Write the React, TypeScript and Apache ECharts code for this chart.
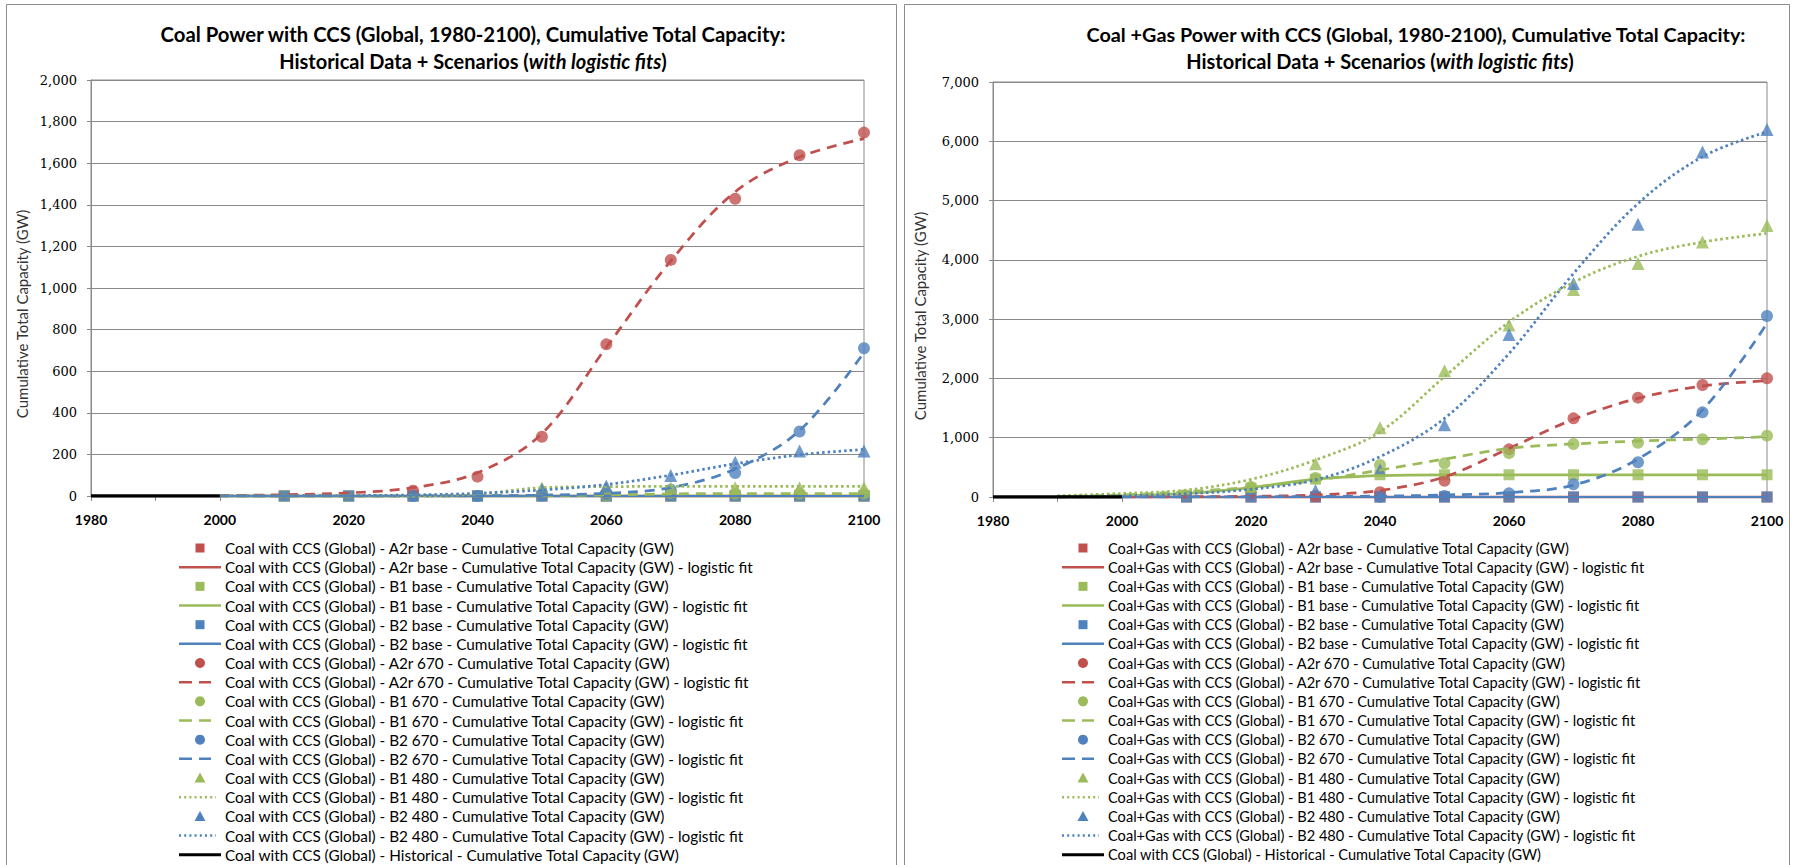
import React, { useEffect, useRef } from "react";
import * as echarts from "echarts";

// ---------- DATA ----------
const MARKER_YEARS = [2010, 2020, 2030, 2040, 2050, 2060, 2070, 2080, 2090, 2100];
const FIT_YEARS = [1990, 2000, 2010, 2020, 2030, 2040, 2050, 2060, 2070, 2080, 2090, 2100];
const HIST_YEARS = [1980, 2000];
const HIST_VALUES = [0, 0];

const SCENARIOS = ["A2r base", "B1 base", "B2 base", "A2r 670", "B1 670", "B2 670", "B1 480", "B2 480"];

// Coal with CCS (left) - markers 2010..2100
const COAL_A2R_BASE = [0, 0, 0, 0, 0, 0, 0, 0, 0, 0];
const COAL_B1_BASE = [0, 0, 0, 0, 0, 0, 0, 0, 0, 0];
const COAL_B2_BASE = [0, 0, 0, 0, 0, 0, 0, 0, 0, 0];
const COAL_A2R_670 = [null, null, 25, 93, 285, 729, 1135, 1429, 1638, 1747];
const COAL_B1_670 = [null, null, null, null, null, 3, 15, 12, 12, 12];
const COAL_B2_670 = [null, null, 0, 0, 2, 8, 30, 110, 310, 710];
const COAL_B1_480 = [null, null, null, null, 38, 40, 40, 40, 40, 40];
const COAL_B2_480 = [null, null, null, null, 33, 48, 98, 162, 216, 216];

// Coal with CCS (left) - logistic fits 1990..2100
const COAL_A2R_BASE_FIT = [null, 0, 0, 0, 0, 0, 0, 0, 0, 0, 0, 0];
const COAL_B1_BASE_FIT = [null, 0, 0, 0, 0, 0, 0, 0, 0, 0, 0, 0];
const COAL_B2_BASE_FIT = [null, 0, 0, 0, 0, 0, 0, 0, 0, 0, 0, 0];
const COAL_A2R_670_FIT = [null, 2, 6, 15, 40, 112, 300, 715, 1130, 1462, 1630, 1718];
const COAL_B1_670_FIT = [null, 0, 0, 0, 0, 1, 2, 5, 10, 12, 12, 12];
const COAL_B2_670_FIT = [null, 0, 0, 0, 0, 1, 4, 13, 40, 130, 315, 690];
const COAL_B1_480_FIT = [null, 0, 0, 0, 1, 10, 40, 45, 46, 46, 46, 46];
const COAL_B2_480_FIT = [null, 0, 1, 2, 5, 13, 29, 55, 100, 155, 198, 224];

// Coal+Gas with CCS (right) - markers 2010..2100
const CG_A2R_BASE = [0, 0, 0, 0, 0, 0, 0, 0, 0, 0];
const CG_B1_BASE = [30, 150, 300, 375, 375, 375, 375, 375, 375, 375];
const CG_B2_BASE = [0, 0, 0, 0, 0, 0, 0, 0, 0, 0];
const CG_A2R_670 = [null, null, 15, 80, 275, 804, 1327, 1676, 1889, 2001];
const CG_B1_670 = [null, 170, 320, 540, 570, 740, 895, 915, 975, 1035];
const CG_B2_670 = [null, null, null, 5, 17, 62, 214, 585, 1428, 3052];
const CG_B1_480 = [null, 180, 560, 1170, 2130, 2900, 3500, 3940, 4300, 4580];
const CG_B2_480 = [null, null, 110, 455, 1220, 2740, 3600, 4600, 5820, 6200];

// Coal+Gas with CCS (right) - logistic fits 1990..2100
const CG_A2R_BASE_FIT = [null, 0, 0, 0, 0, 0, 0, 0, 0, 0, 0, 0];
const CG_B1_BASE_FIT = [5, 20, 60, 160, 300, 360, 375, 375, 375, 375, 375, 375];
const CG_B2_BASE_FIT = [null, 0, 0, 0, 0, 0, 0, 0, 0, 0, 0, 0];
const CG_A2R_670_FIT = [0, 1, 4, 12, 35, 110, 340, 820, 1310, 1664, 1872, 1962];
const CG_B1_670_FIT = [10, 34, 90, 165, 280, 455, 640, 820, 895, 944, 978, 1017];
const CG_B2_670_FIT = [null, 0, 1, 3, 8, 15, 34, 73, 202, 640, 1467, 2929];
const CG_B1_480_FIT = [20, 60, 118, 298, 624, 1100, 2030, 2950, 3620, 4060, 4300, 4446];
const CG_B2_480_FIT = [5, 20, 55, 130, 290, 680, 1326, 2420, 3770, 4950, 5740, 6160];

const LEFT_Y = { max: 2000, interval: 200 };
const RIGHT_Y = { max: 7000, interval: 1000 };

const TITLE_LEFT_1 = "Coal Power with CCS (Global, 1980-2100), Cumulative Total Capacity:";
const TITLE_RIGHT_1 = "Coal +Gas Power with CCS (Global, 1980-2100), Cumulative Total Capacity:";
const TITLE_2A = "Historical Data + Scenarios (";
const TITLE_2B = "with logistic fits";
const TITLE_2C = ")";
const Y_NAME = "Cumulative Total Capacity (GW)";
const HIST_NAME = "Coal with CCS (Global) - Historical - Cumulative Total Capacity (GW)";

// ---------- STYLE ----------
const RED = "#C0504D";
const GREEN = "#9BBB59";
const BLUE = "#4F81BD";
const GRID_GRAY = "#8a8a8a";

type Style = { color: string; symbol: string; dash: "solid" | "dashed" | "dotted" };
const STYLES: Style[] = [
  { color: RED, symbol: "rect", dash: "solid" },
  { color: GREEN, symbol: "rect", dash: "solid" },
  { color: BLUE, symbol: "rect", dash: "solid" },
  { color: RED, symbol: "circle", dash: "dashed" },
  { color: GREEN, symbol: "circle", dash: "dashed" },
  { color: BLUE, symbol: "circle", dash: "dashed" },
  { color: GREEN, symbol: "triangle", dash: "dotted" },
  { color: BLUE, symbol: "triangle", dash: "dotted" },
];

const COAL_MARKERS = [COAL_A2R_BASE, COAL_B1_BASE, COAL_B2_BASE, COAL_A2R_670, COAL_B1_670, COAL_B2_670, COAL_B1_480, COAL_B2_480];
const COAL_FITS = [COAL_A2R_BASE_FIT, COAL_B1_BASE_FIT, COAL_B2_BASE_FIT, COAL_A2R_670_FIT, COAL_B1_670_FIT, COAL_B2_670_FIT, COAL_B1_480_FIT, COAL_B2_480_FIT];
const CG_MARKERS = [CG_A2R_BASE, CG_B1_BASE, CG_B2_BASE, CG_A2R_670, CG_B1_670, CG_B2_670, CG_B1_480, CG_B2_480];
const CG_FITS = [CG_A2R_BASE_FIT, CG_B1_BASE_FIT, CG_B2_BASE_FIT, CG_A2R_670_FIT, CG_B1_670_FIT, CG_B2_670_FIT, CG_B1_480_FIT, CG_B2_480_FIT];

const pairs = (xs: number[], ys: (number | null)[]) =>
  xs.map((x, i) => [x, ys[i]]).filter((p) => p[1] !== null);

const dashArr = (d: string) => (d === "dashed" ? [10, 7] : d === "dotted" ? [2.5, 3] : "solid");

function buildSeries(prefix: string, markers: (number | null)[][], fits: (number | null)[][], axisIndex: number) {
  const out: any[] = [];
  SCENARIOS.forEach((sc, i) => {
    const st = STYLES[i];
    const base = `${prefix} - ${sc} - Cumulative Total Capacity (GW)`;
    out.push({
      name: base,
      type: "scatter",
      xAxisIndex: axisIndex,
      yAxisIndex: axisIndex,
      symbol: st.symbol,
      symbolSize: st.symbol === "triangle" ? 13 : st.symbol === "rect" ? 11 : 12,
      itemStyle: { color: st.color },
      data: pairs(MARKER_YEARS, markers[i]),
    });
    out.push({
      name: base + " - logistic fit",
      type: "line",
      xAxisIndex: axisIndex,
      yAxisIndex: axisIndex,
      symbol: "none",
      smooth: 0.35,
      lineStyle: { color: st.color, width: i === 2 ? 2.25 : 2.75, type: dashArr(st.dash) },
      itemStyle: { color: st.color },
      data: pairs(FIT_YEARS, fits[i]),
    });
  });
  out.push({
    name: HIST_NAME,
    type: "line",
    xAxisIndex: axisIndex,
    yAxisIndex: axisIndex,
    symbol: "none",
    lineStyle: { color: "#000", width: 3.5 },
    itemStyle: { color: "#000" },
    data: pairs(HIST_YEARS, HIST_VALUES),
  });
  return out;
}

function legendGraphics(prefix: string, iconX: number, textX: number, fontSize: number) {
  const els: any[] = [];
  const y0 = 548;
  const step = 19.17;
  const names: { text: string; kind: string; st: Style | null }[] = [];
  SCENARIOS.forEach((sc, i) => {
    const base = `${prefix} - ${sc} - Cumulative Total Capacity (GW)`;
    names.push({ text: base, kind: "marker", st: STYLES[i] });
    names.push({ text: base + " - logistic fit", kind: "fit", st: STYLES[i] });
  });
  names.push({ text: HIST_NAME, kind: "hist", st: null });
  names.forEach((n, r) => {
    const y = y0 + r * step;
    const cx = iconX + 21;
    if (n.kind === "marker" && n.st) {
      const c = n.st.color;
      if (n.st.symbol === "rect") {
        els.push({ type: "rect", shape: { x: cx - 4.5, y: y - 4.5, width: 9, height: 9 }, style: { fill: c } });
      } else if (n.st.symbol === "circle") {
        els.push({ type: "circle", shape: { cx, cy: y, r: 5 }, style: { fill: c } });
      } else {
        els.push({ type: "polygon", shape: { points: [[cx, y - 5.5], [cx + 5.5, y + 4.5], [cx - 5.5, y + 4.5]] }, style: { fill: c } });
      }
    } else if (n.kind === "fit" && n.st) {
      const d = n.st.dash;
      const x2 = d === "solid" ? iconX + 42 : d === "dashed" ? iconX + 32 : iconX + 37;
      els.push({
        type: "line",
        shape: { x1: iconX, y1: y, x2, y2: y },
        style: {
          stroke: n.st.color,
          lineWidth: 2.5,
          lineDash: d === "dashed" ? [13, 7] : d === "dotted" ? [2, 3.2] : null,
        },
      });
    } else {
      els.push({ type: "line", shape: { x1: iconX, y1: y, x2: iconX + 42, y2: y }, style: { stroke: "#000", lineWidth: 3 } });
    }
    els.push({
      type: "text",
      x: textX,
      y,
      style: { text: n.text, fontFamily: "Lato", fontSize, fill: "#000", verticalAlign: "middle", align: "left" },
    });
  });
  return els;
}

function titleGraphics(line1: string, cx1: number, cx2: number, size1: number) {
  const font = { fontFamily: "Lato", fontSize: size1, fontWeight: "bold", fill: "#000" };
  return [
    { type: "text", x: cx1, y: 34, style: { ...font, text: line1, align: "center", verticalAlign: "middle" } },
    {
      type: "text",
      x: cx2,
      y: 61,
      style: {
        text: `{n|${TITLE_2A}}{i|${TITLE_2B}}{n|${TITLE_2C}}`,
        align: "center",
        verticalAlign: "middle",
        rich: {
          n: { fontFamily: "Lato", fontSize: 20, fontWeight: "bold", fill: "#000" },
          i: { fontFamily: "Lato", fontSize: 20, fontWeight: "bold", fontStyle: "italic", fill: "#000" },
        },
      },
    },
  ];
}

const fmt = (v: number) => v.toLocaleString("en-US");

function xAxisCfg(gridIndex: number) {
  return {
    type: "value",
    gridIndex,
    min: 1980,
    max: 2100,
    interval: 10,
    axisLine: { show: true, lineStyle: { color: GRID_GRAY, width: 1 } },
    axisTick: { show: true, length: 5, lineStyle: { color: GRID_GRAY } },
    splitLine: { show: false },
    axisLabel: {
      margin: 16,
      color: "#000",
      fontFamily: "Lato",
      fontSize: 14,
      fontWeight: "bold",
      formatter: (v: number) => (v % 20 === 0 ? String(v) : ""),
    },
  };
}

function yAxisCfg(gridIndex: number, cfg: { max: number; interval: number }) {
  return {
    type: "value",
    gridIndex,
    min: 0,
    max: cfg.max,
    interval: cfg.interval,
    axisLine: { show: true, lineStyle: { color: GRID_GRAY, width: 1 } },
    axisTick: { show: true, length: 4, lineStyle: { color: GRID_GRAY } },
    splitLine: { show: true, lineStyle: { color: GRID_GRAY, width: 1 } },
    axisLabel: { margin: 14, color: "#000", fontFamily: "DejaVu Serif", fontSize: 13, formatter: fmt },
  };
}

export default function App() {
  const ref = useRef<HTMLDivElement>(null);
  useEffect(() => {
    if (!ref.current) return;
    const chart = echarts.init(ref.current, null, { renderer: "svg" });
    const series = [
      ...buildSeries("Coal with CCS (Global)", COAL_MARKERS, COAL_FITS, 0),
      ...buildSeries("Coal+Gas with CCS (Global)", CG_MARKERS, CG_FITS, 1),
    ];
    const graphic = [
      { type: "rect", shape: { x: 6.5, y: 4.5, width: 890, height: 870 }, style: { fill: "none", stroke: "#8c8c8c", lineWidth: 1 }, z: -1 },
      { type: "rect", shape: { x: 904.5, y: 4.5, width: 885, height: 870 }, style: { fill: "none", stroke: "#8c8c8c", lineWidth: 1 }, z: -1 },
      ...titleGraphics(TITLE_LEFT_1, 473, 473, 20.3),
      ...titleGraphics(TITLE_RIGHT_1, 1416, 1380, 19.8),
      {
        type: "text",
        x: 22,
        y: 314,
        rotation: Math.PI / 2,
        style: { text: Y_NAME, fontFamily: "Lato", fontSize: 15, fill: "#333", align: "center", verticalAlign: "middle" },
      },
      {
        type: "text",
        x: 920,
        y: 316,
        rotation: Math.PI / 2,
        style: { text: Y_NAME, fontFamily: "Lato", fontSize: 15, fill: "#333", align: "center", verticalAlign: "middle" },
      },
      ...legendGraphics("Coal with CCS (Global)", 179, 225, 15.3),
      ...legendGraphics("Coal+Gas with CCS (Global)", 1062, 1108, 14.6),
    ];
    chart.setOption({
      animation: false,
      backgroundColor: "#fff",
      grid: [
        { left: 91, top: 80, width: 773, height: 416, show: true, borderColor: GRID_GRAY, borderWidth: 1, backgroundColor: "transparent" },
        { left: 993, top: 82, width: 774, height: 415, show: true, borderColor: GRID_GRAY, borderWidth: 1, backgroundColor: "transparent" },
      ],
      xAxis: [xAxisCfg(0), xAxisCfg(1)],
      yAxis: [yAxisCfg(0, LEFT_Y), yAxisCfg(1, RIGHT_Y)],
      series,
      graphic,
    });
    return () => chart.dispose();
  }, []);
  return (
    <div
      ref={ref}
      style={{ position: "absolute", left: 0, top: 0, width: 1793, height: 865, background: "#fff" }}
    />
  );
}
